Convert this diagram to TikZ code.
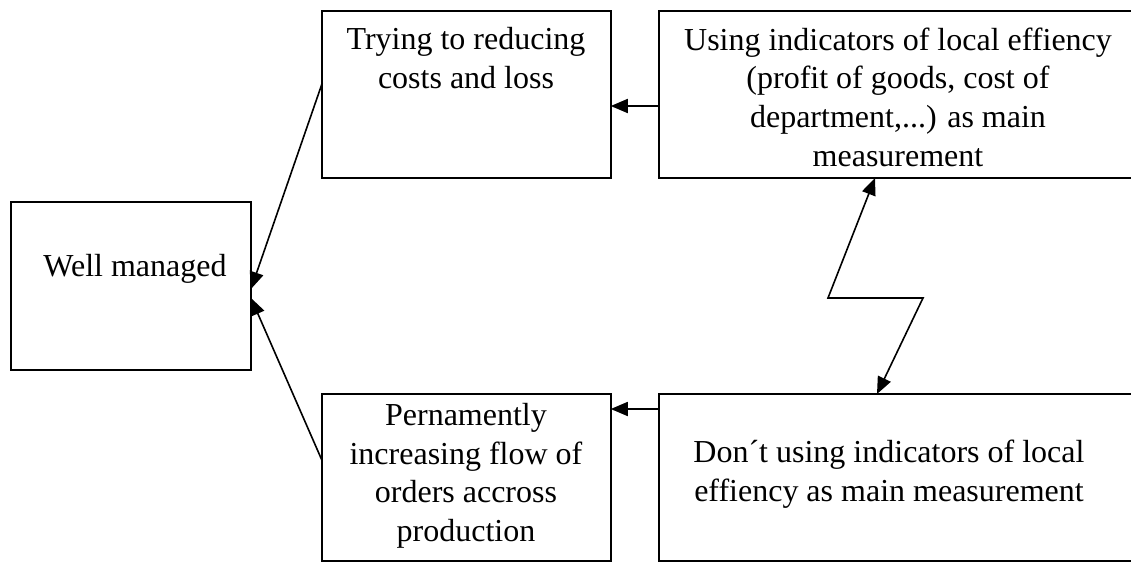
\documentclass[tikz,border=0pt]{standalone}
\usepackage{fontspec}
\setmainfont{Liberation Serif}
\usetikzlibrary{arrows.meta}

\begin{document}
\begin{tikzpicture}[x=0.5pt,y=-0.5pt,
    >={Triangle[length=8.5pt,width=7pt]},
    box/.style={draw, rectangle, line width=1pt, outer sep=0pt, inner sep=0pt},
    txt/.style={align=center, inner sep=0pt, font=\fontsize{16}{19.3}\selectfont},
    arr/.style={->, line width=0.8pt}]

        \useasboundingbox (0,0) rectangle (1131,562);
        \clip (0,0) rectangle (1131,562);

        % boxes
        \node[box, minimum width=120pt, minimum height=84pt]     (well)    at (131,286)   {};
        \node[box, minimum width=144.25pt, minimum height=83.5pt] (reduce)  at (466.5,94.5)  {};
        \node[box, minimum width=243pt, minimum height=83.5pt]    (local)   at (902,94.5)    {};
        \node[box, minimum width=144.25pt, minimum height=83.5pt] (flow)    at (466.5,477.5) {};
        \node[box, minimum width=243pt, minimum height=83.5pt]    (nolocal) at (902,477.5)   {};

        % texts
        \node[txt] (welltxt)    at (135,269)   {Well managed};
        \node[txt] (reducetxt)  at (466,58)    {Trying to reducing\\costs and loss};
        \node[txt] (localtxt)   at (898,97)    {Using indicators of local effiency\\(profit of goods, cost of\\department,...) as main\\measurement};
        \node[txt] (flowtxt)    at (466,476)   {Pernamently\\increasing flow of\\orders accross\\production};
        \node[txt] (nolocaltxt) at (889,474)   {Don´t using indicators of local\\effiency as main measurement};

        \coordinate (bendl) at (828,298);
        \coordinate (bendr) at (923,298);

        % connectors
        \draw[arr] (local.west |- 0,106)   -- (reduce.east |- 0,106);
        \draw[arr] (nolocal.west |- 0,409) -- (flow.east |- 0,409);
        \draw[arr] (reduce.west |- 0,83)   -- (well.east |- 0,289);
        \draw[arr] (flow.west |- 0,461)    -- (well.east |- 0,298);
        \draw[arr, <->] (local.south -| 875,0) -- (bendl) -- (bendr) -- (nolocal.north -| 877,0);

      \end{tikzpicture}
\end{document}
